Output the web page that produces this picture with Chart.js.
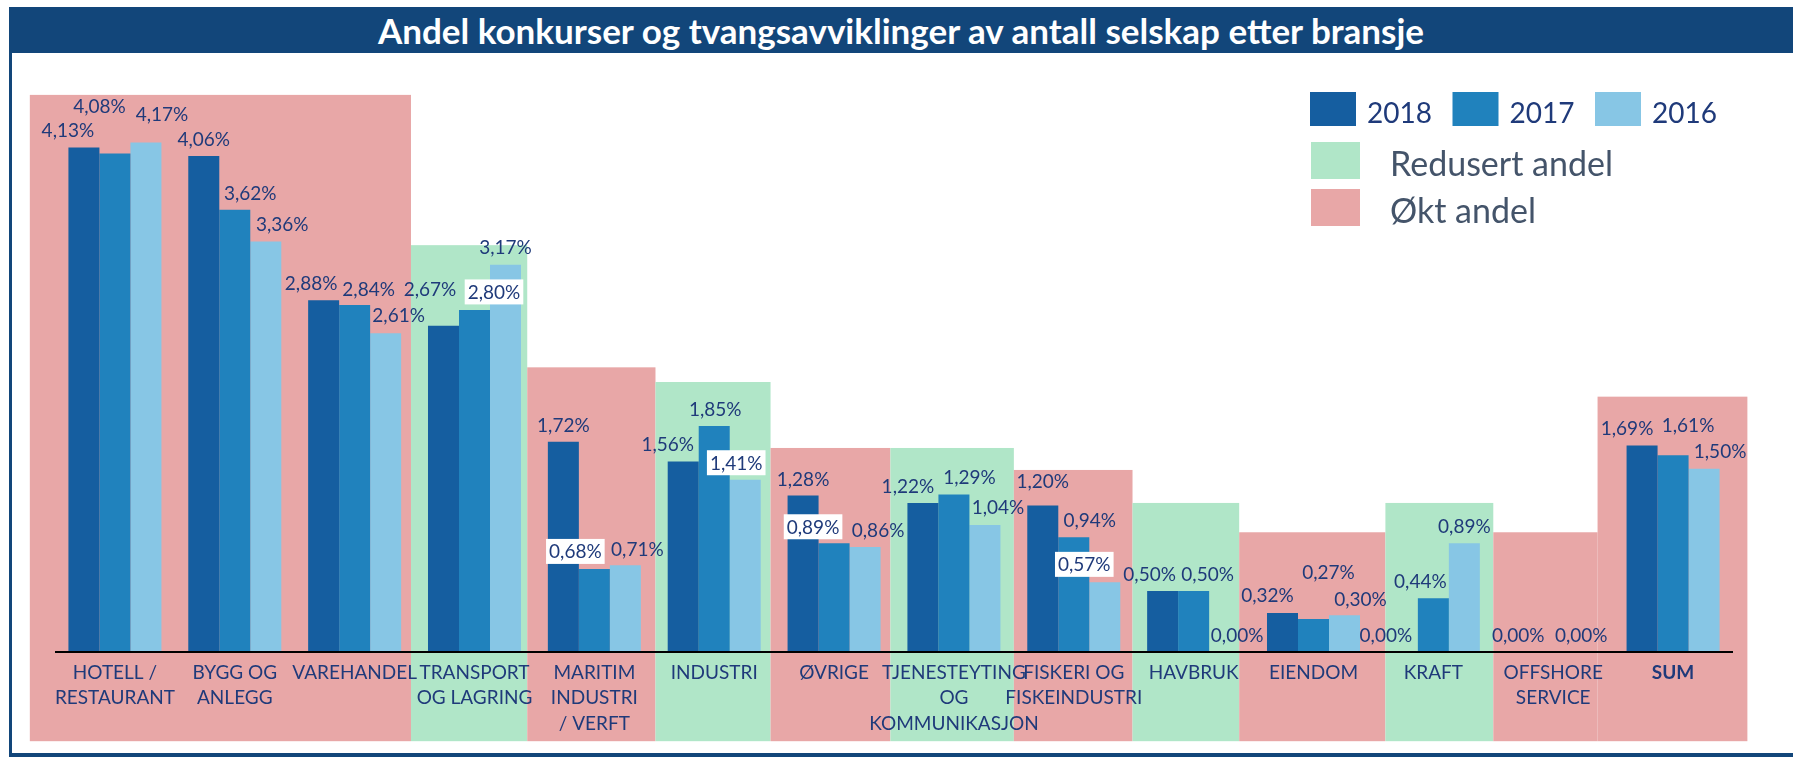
<!DOCTYPE html>
<html lang="no">
<head>
<meta charset="utf-8">
<title>Andel konkurser og tvangsavviklinger av antall selskap etter bransje</title>
<script src="https://cdn.jsdelivr.net/npm/chart.js@4.4.1/dist/chart.umd.min.js"></script>
<style>
    html, body { margin: 0; padding: 0; background: #fff; }
    body { width: 1793px; height: 757px; position: relative; overflow: hidden; font-family: Lato, sans-serif; }
    #frame {
        position: absolute; left: 9px; top: 7px; right: 0; bottom: 0;
        border-left: 3px solid #12467a; border-bottom: 4px solid #12467a;
    }
    #title {
        position: absolute; left: 9px; top: 7px; right: 0; height: 46px;
        background: #12467a; color: #fff; font-weight: 700; font-size: 35px;
        text-align: center; line-height: 46px; z-index: 2;
    }
    #chart { position: absolute; left: 0; top: 0; z-index: 1; }
</style>
</head>
<body>
<div id="frame"></div>
<div id="title">Andel konkurser og tvangsavviklinger av antall selskap etter bransje</div>
<canvas id="chart" width="1793" height="757"></canvas>
<script>
// Data
const categories = [
    ['HOTELL /', 'RESTAURANT'], ['BYGG OG', 'ANLEGG'], ['VAREHANDEL'], ['TRANSPORT', 'OG LAGRING'],
    ['MARITIM', 'INDUSTRI', '/ VERFT'], ['INDUSTRI'], ['ØVRIGE'], ['TJENESTEYTING', 'OG', 'KOMMUNIKASJON'],
    ['FISKERI OG', 'FISKEINDUSTRI'], ['HAVBRUK'], ['EIENDOM'], ['KRAFT'], ['OFFSHORE', 'SERVICE'], ['SUM']
];
const years = ['2018', '2017', '2016'];
const share2018 = [4.13, 4.06, 2.88, 2.67, 1.72, 1.56, 1.28, 1.22, 1.20, 0.50, 0.32, 0.00, 0.00, 1.69];
const share2017 = [4.08, 3.62, 2.84, 2.80, 0.68, 1.85, 0.89, 1.29, 0.94, 0.50, 0.27, 0.44, null, 1.61];
const share2016 = [4.17, 3.36, 2.61, 3.17, 0.71, 1.41, 0.86, 1.04, 0.57, 0.00, 0.30, 0.89, 0.00, 1.50];

// bakgrunnsfelt: okt = økt andel, red = redusert andel (kanter i kategori-enheter)
const boxEdges = [-0.71, 2.47, 3.44, 4.51, 5.47, 6.47, 7.5, 8.49, 9.38, 10.6, 11.5, 12.37, 13.62];
const boxTops = [4.56, 3.33, 2.33, 2.21, 1.67, 1.67, 1.49, 1.22, 0.98, 1.22, 0.98, 2.09];
const boxKinds = ['okt', 'red', 'okt', 'red', 'okt', 'red', 'okt', 'red', 'okt', 'red', 'okt', 'okt'];
const boxBottom = -0.73;
const boxLegend = [['red', 'Redusert andel'], ['okt', 'Økt andel']];

// Styles
const barColors = ['#155ea0', '#2082bd', '#87c6e5'];
const boxColors = { okt: '#e8a7a7', red: '#b0e6c8' };
const labelColor = '#1f3a7a';
const fontFamily = 'Lato, sans-serif';

// manuell plassering av dataetiketter: [dx, dy] fra toppen av søylen
const labelNudge = [
    [[-16, -17], [0, -17], [-12.5, -17], [-13.5, -36.5], [0, -17], [-15.5, -17], [0, -17],
     [-15, -17], [0, -24], [-13, -16.5], [-15, -18], [-16.5, -17], [-4, -17], [-15, -18]],
    [[-15.5, -48], [15.5, -17], [14, -16], [19.5, -18], [-19, -17.5], [1, -17], [-21, -16.5],
     [15.5, -17], [16, -17], [14, -17], [15, -47], [-13, -17], [0, -17], [15, -30]],
    [[16, -29], [16.5, -17], [13, -18], [0, -18], [12, -16.5], [-9, -17], [13, -17],
     [13, -17.5], [-20.5, -18], [12.5, -17], [16, -16], [0, -17.5], [-3, -17], [16, -17.5]]
];
const boxedLabels = [[], [3, 4, 6], [5, 8]];

const formatPct = (v) => v.toFixed(2).replace('.', ',') + '%';

const backgroundBoxes = {
    id: 'backgroundBoxes',
    beforeDraw(chart) {
        const { ctx, scales: { x, y } } = chart;
        ctx.save();
        boxTops.forEach((top, i) => {
            const left = x.getPixelForValue(boxEdges[i]);
            const right = x.getPixelForValue(boxEdges[i + 1]);
            const yTop = y.getPixelForValue(top);
            const yBottom = y.getPixelForValue(boxBottom);
            ctx.fillStyle = boxColors[boxKinds[i]];
            ctx.fillRect(left, yTop, right - left, yBottom - yTop);
        });
        ctx.restore();
    }
};

const valueLabels = {
    id: 'valueLabels',
    afterDatasetsDraw(chart) {
        const { ctx, scales: { x, y } } = chart;
        ctx.save();
        // x-akse linje
        const y0 = y.getPixelForValue(0);
        ctx.strokeStyle = '#000';
        ctx.lineWidth = 2;
        ctx.beginPath();
        ctx.moveTo(x.left, y0);
        ctx.lineTo(x.right, y0);
        ctx.stroke();

        ctx.font = '19px ' + fontFamily;
        ctx.textAlign = 'center';
        ctx.textBaseline = 'alphabetic';
        chart.data.datasets.forEach((ds, di) => {
            const meta = chart.getDatasetMeta(di);
            meta.data.forEach((bar, i) => {
                const v = ds.data[i];
                if (v === null || v === undefined) return;
                const [dx, dy] = labelNudge[di][i];
                const cx = bar.x + dx;
                const cy = bar.y + dy;
                const text = formatPct(v);
                if (boxedLabels[di].includes(i)) {
                    const w = ctx.measureText(text).width + 6;
                    ctx.fillStyle = '#fff';
                    ctx.fillRect(cx - w / 2, cy - 12.5, w, 25);
                }
                ctx.fillStyle = labelColor;
                ctx.fillText(text, cx, cy + 7);
            });
        });
        ctx.restore();
    }
};

const customLegend = {
    id: 'customLegend',
    afterDraw(chart) {
        const { ctx } = chart;
        ctx.save();
        ctx.textBaseline = 'alphabetic';
        ctx.textAlign = 'left';
        chart.data.datasets.forEach((ds, i) => {
            const bx = 1310 + i * 142.5;
            ctx.fillStyle = ds.backgroundColor;
            ctx.fillRect(bx, 92, 46, 34);
            ctx.fillStyle = labelColor;
            ctx.font = '28px ' + fontFamily;
            ctx.fillText(ds.label, bx + 57, 123);
        });
        boxLegend.forEach(([kind, text], i) => {
            const by = 142 + i * 47;
            ctx.fillStyle = boxColors[kind];
            ctx.fillRect(1311, by, 49, 37);
            ctx.fillStyle = '#44546a';
            ctx.font = '34px ' + fontFamily;
            ctx.fillText(text, 1390, by + 34);
        });
        ctx.restore();
    }
};

const seriesValues = [share2018, share2017, share2016];

new Chart(document.getElementById('chart'), {
    type: 'bar',
    data: {
        labels: categories,
        datasets: years.map((year, i) => ({
            label: year,
            data: seriesValues[i],
            backgroundColor: barColors[i],
            borderWidth: 0,
            categoryPercentage: 0.776,
            barPercentage: 1
        }))
    },
    options: {
        responsive: false,
        animation: false,
        events: [],
        layout: { autoPadding: false, padding: { left: 55, right: 60, top: 90, bottom: 0 } },
        plugins: {
            legend: { display: false },
            tooltip: { enabled: false },
            title: { display: false }
        },
        scales: {
            x: {
                grid: { display: false, drawTicks: false },
                border: { display: false },
                afterFit: (scale) => { scale.height = 105; },
                ticks: {
                    autoSkip: false,
                    maxRotation: 0,
                    minRotation: 0,
                    padding: 8,
                    color: labelColor,
                    font: (c) => ({
                        family: fontFamily,
                        size: 19,
                        lineHeight: 1.34,
                        weight: categories[c.index] && categories[c.index][0] === 'SUM' ? 'bold' : 'normal'
                    })
                }
            },
            y: {
                display: false,
                min: 0,
                max: 4.6
            }
        }
    },
    plugins: [backgroundBoxes, valueLabels, customLegend]
});
</script>
</body>
</html>
